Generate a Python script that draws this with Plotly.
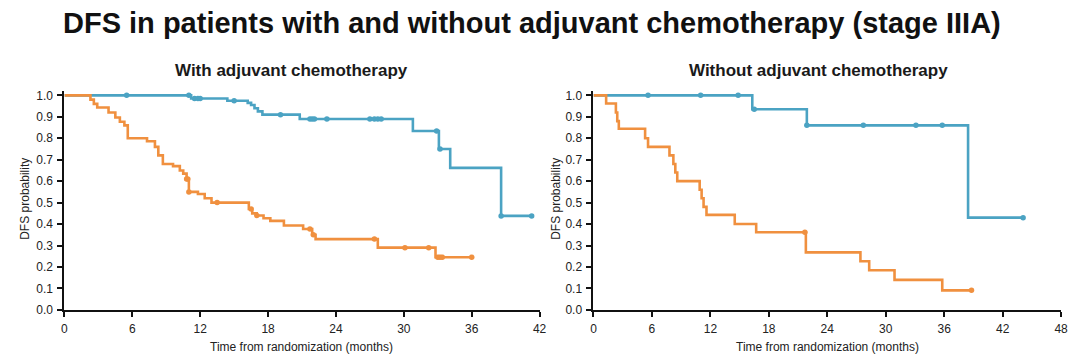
import plotly.graph_objects as go

# ---- data ----
# Left panel: With adjuvant chemotherapy
L_blue_t = [0, 11.2, 14.4, 16.2, 16.5, 16.8, 17.1, 17.5, 20.8, 30.8, 33.1, 34.1, 38.6, 41.3]
L_blue_s = [1.0, 0.985, 0.975, 0.965, 0.955, 0.94, 0.925, 0.91, 0.89, 0.834, 0.75, 0.662, 0.438, 0.438]
L_blue_cens = [5.5, 11.0, 11.5, 11.8, 12.0, 15.0, 19.1, 21.7, 21.9, 22.1, 23.2, 27.0, 27.4, 27.7, 28.0, 32.9, 33.2, 38.6, 41.3]

L_orange_t = [0, 2.3, 2.6, 2.9, 3.9, 4.5, 4.9, 5.3, 5.6, 7.3, 8.0, 8.3, 8.7, 9.6, 10.2, 10.5, 10.8, 11.0,
              11.8, 12.4, 13.0, 16.3, 16.6, 17.0, 17.6, 18.2, 19.4, 21.1, 21.9, 22.2, 27.7, 32.8, 36.0]
L_orange_s = [1.0, 0.98, 0.96, 0.943, 0.92, 0.897, 0.877, 0.86, 0.80, 0.786, 0.76, 0.72, 0.68, 0.67, 0.65, 0.635, 0.61, 0.55,
              0.54, 0.52, 0.50, 0.47, 0.45, 0.44, 0.427, 0.415, 0.393, 0.377, 0.35, 0.33, 0.29, 0.245, 0.245]
L_orange_cens = [10.8, 10.9, 11.0, 13.5, 16.5, 17.0, 21.7, 22.0, 27.4, 30.1, 32.2, 33.0, 33.2, 33.4, 36.0]

# Right panel: Without adjuvant chemotherapy
R_blue_t = [0, 16.3, 21.9, 38.45, 44.1]
R_blue_s = [1.0, 0.935, 0.86, 0.43, 0.43]
R_blue_cens = [5.6, 11.0, 14.85, 16.5, 21.9, 27.7, 33.1, 35.8, 44.1]

R_orange_t = [0, 1.3, 2.3, 2.44, 2.6, 5.3, 5.6, 7.8, 8.2, 8.4, 8.6, 10.9, 11.1, 11.3, 11.6, 14.5, 16.7,
              21.8, 27.4, 28.3, 30.9, 35.8, 38.8]
R_orange_s = [1.0, 0.962, 0.92, 0.88, 0.844, 0.80, 0.76, 0.72, 0.68, 0.64, 0.60, 0.56, 0.52, 0.48, 0.443, 0.40, 0.362,
              0.268, 0.227, 0.185, 0.14, 0.091, 0.091]
R_orange_cens = [21.7, 38.8]

y_ticks = [0.0, 0.1, 0.2, 0.3, 0.4, 0.5, 0.6, 0.7, 0.8, 0.9, 1.0]
L_x_ticks = [0, 6, 12, 18, 24, 30, 36, 42]
R_x_ticks = [0, 6, 12, 18, 24, 30, 36, 42, 48]

title = "DFS in patients with and without adjuvant chemotherapy (stage IIIA)"
sub_left = "With adjuvant chemotherapy"
sub_right = "Without adjuvant chemotherapy"
y_title = "DFS probability"
x_title = "Time from randomization (months)"

BLUE = "#4ba3c3"
ORANGE = "#f0903f"

# the page body margin is removed in the written page, so figure px == page px
W, H = 1080, 364


def px(x):
    return x / W


def py(y):
    return 1 - y / H


def step_value(ts, ss, t):
    v = ss[0]
    for ti, si in zip(ts, ss):
        if ti <= t:
            v = si
    return v


fig = go.Figure()


def add_curve(ts, ss, cens, color, xa, ya):
    fig.add_trace(go.Scatter(x=ts, y=ss, mode="lines", line=dict(color=color, width=2.6, shape="hv"),
                             xaxis=xa, yaxis=ya, showlegend=False, hoverinfo="skip"))
    fig.add_trace(go.Scatter(x=cens, y=[step_value(ts, ss, c) for c in cens], mode="markers",
                             marker=dict(color=color, size=5.5, symbol="circle"),
                             xaxis=xa, yaxis=ya, showlegend=False, cliponaxis=False))


add_curve(L_blue_t, L_blue_s, L_blue_cens, BLUE, "x", "y")
add_curve(L_orange_t, L_orange_s, L_orange_cens, ORANGE, "x", "y")
add_curve(R_blue_t, R_blue_s, R_blue_cens, BLUE, "x2", "y2")
add_curve(R_orange_t, R_orange_s, R_orange_cens, ORANGE, "x2", "y2")

narrow = "Liberation Sans Narrow, Arial Narrow, Liberation Sans, sans-serif"
tick_font = dict(family=narrow, size=12, color="#222")
ydom = [py(315.7), py(91.3)]

common_x = dict(showline=True, linecolor="#111", linewidth=2, ticks="outside", ticklen=5, tickwidth=1.5,
                tickcolor="#111", showgrid=False, zeroline=False, tickfont=tick_font, ticklabelstandoff=2)
common_y = dict(showline=True, linecolor="#111", linewidth=2, ticks="outside", ticklen=5, tickwidth=1.5,
                tickcolor="#111", showgrid=False, zeroline=False, tickfont=tick_font, range=[0, 1.02],
                tickvals=y_ticks, ticktext=[f"{v:.1f}" for v in y_ticks], domain=ydom, ticklabelstandoff=2)

fig.update_layout(
    width=W, height=H, margin=dict(l=0, r=0, t=0, b=0),
    paper_bgcolor="white", plot_bgcolor="white",
    xaxis=dict(domain=[px(62), px(541.6)], range=[0, 42], tickvals=L_x_ticks, anchor="y", **common_x),
    yaxis=dict(anchor="x", **common_y),
    xaxis2=dict(domain=[px(596), px(1068)], range=[0, 48], tickvals=R_x_ticks, anchor="y2", **common_x),
    yaxis2=dict(anchor="x2", **common_y),
    font=dict(family="Liberation Sans, Arial, sans-serif"),
)

ann_font = dict(family=narrow, size=12, color="#222")
bold = "Liberation Sans, Arial, sans-serif"
annotations = [
    dict(text=f"<b>{title}</b>", x=px(534), y=py(22), font=dict(family=bold, size=29, color="#111")),
    dict(text=f"<b>{sub_left}</b>", x=px(291), y=py(70), font=dict(family=bold, size=17, color="#1a1a1a")),
    dict(text=f"<b>{sub_right}</b>", x=px(823), y=py(70), font=dict(family=bold, size=17, color="#1a1a1a")),
    dict(text=y_title, x=px(22), y=py(202), textangle=-90, font=ann_font),
    dict(text=y_title, x=px(558), y=py(202), textangle=-90, font=ann_font),
    dict(text=x_title, x=px(301), y=py(354), font=ann_font),
    dict(text=x_title, x=px(832), y=py(354), font=ann_font),
]
for a in annotations:
    a.update(xref="paper", yref="paper", showarrow=False, xanchor="center", yanchor="middle")
fig.update_layout(annotations=annotations)

fig.write_html("out.html", config={"displayModeBar": False},
               post_script="document.body.style.margin='0px';document.body.style.overflow='hidden';")
